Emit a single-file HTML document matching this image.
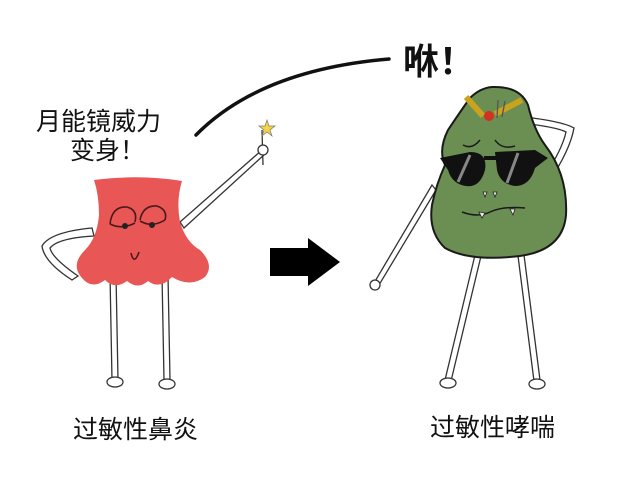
<!DOCTYPE html>
<html><head><meta charset="utf-8"><style>
html,body{margin:0;padding:0;background:#fff;}
svg{display:block}
text{font-family:"Liberation Sans","Noto Sans CJK SC",sans-serif;fill:#111}
</style></head><body>
<svg width="640" height="490" viewBox="0 0 640 490" xmlns="http://www.w3.org/2000/svg">
<rect width="640" height="490" fill="#fff"/>
<text x="36" y="130" font-size="25">月能镜威力</text>
<text x="70" y="159" font-size="25">变身！</text>
<text x="403" y="74" font-size="36" font-weight="bold">咻！</text>
<text x="73" y="438" font-size="25">过敏性鼻炎</text>
<text x="430" y="436" font-size="25">过敏性哮喘</text>
<path d="M196 135 Q260 70 389 59" stroke="#111" stroke-width="3.5" fill="none" stroke-linecap="round"/>
<polygon points="270,248 308,248 308,238 340,262 308,286 308,276 270,276" fill="#000"/>

<g stroke="#333" stroke-width="1.3" fill="#fff">
  <path d="M110 275 L112 380 L118 380 L116 275Z"/>
  <path d="M162 275 L164 380 L170 380 L168 275Z"/>
  <ellipse cx="115" cy="382" rx="8" ry="5"/>
  <ellipse cx="167" cy="384" rx="8" ry="5"/>
  <path d="M180 222 L262 150 L265 154 L184 228Z"/>
  <line x1="262" y1="130" x2="263" y2="165" stroke="#333"/>
  <circle cx="263" cy="150" r="5"/>
  <path d="M92 228 Q50 232 42 246 Q44 262 72 280 L78 276 Q52 258 50 248 Q58 238 94 236Z"/>
</g>
<polygon points="267,120 269,126 275,126 270,130 272,136 267,132 262,136 264,130 259,126 265,126" fill="#f5d442" stroke="#777" stroke-width="0.7"/>
<path d="M94 180 Q140 174 182 181 Q176 200 180 222 Q186 242 200 250 Q215 265 205 277 Q190 288 172 277 Q160 290 148 281 Q138 290 127 281 Q115 290 105 280 Q92 290 82 278 Q70 265 85 250 Q97 238 99 215 Q99 195 94 180Z" fill="#e85656"/>
<g stroke="#4a1a1a" stroke-width="1.6" fill="none">
  <path d="M110 224 Q112 206 127 207 Q138 210 135 222"/>
  <path d="M140 220 Q143 205 157 206 Q168 210 165 220"/>
  <path d="M110 224 Q122 230 135 223"/>
  <path d="M140 221 Q152 228 165 220"/>
  <path d="M131 253 Q134 266 139 252"/>
</g>
<circle cx="125" cy="226" r="3" fill="#222"/><circle cx="152" cy="225" r="3" fill="#222"/>

<g stroke="#333" stroke-width="1.3" fill="#fff">
  <path d="M475 255 L445 380 L451 381 L481 256Z"/>
  <path d="M518 256 L534 381 L540 380 L524 255Z"/>
  <ellipse cx="448" cy="383" rx="8" ry="5"/>
  <ellipse cx="537" cy="384" rx="8" ry="5"/>
  <path d="M432 185 L374 283 L379 285 L436 190Z"/>
  <circle cx="375" cy="285" r="5"/>
  <path d="M550 180 Q570 150 574 128 Q560 120 505 115 L503 121 Q555 126 566 132 Q562 150 545 175Z"/>
</g>
<path d="M492 87 Q520 86 528 105 Q534 130 545 145 Q568 175 566 215 Q563 250 520 256 Q470 262 445 248 Q428 232 432 205 Q436 185 445 165 Q438 150 448 130 Q460 112 470 98 Q480 88 492 87Z" fill="#6b8f52" stroke="#1a1a1a" stroke-width="2"/>
<path d="M466 97 L483 116" stroke="#c9a220" stroke-width="6"/>
<path d="M495 114 L522 100" stroke="#c9a220" stroke-width="6"/>
<circle cx="489" cy="116" r="5" fill="#d23020"/>
<path d="M497 118 L498 100 M502 117 L505 101" stroke="#555" stroke-width="1.3"/>
<g fill="#111">
  <path d="M440 158 L470 152 Q488 152 485 170 Q480 188 466 186 Q452 184 448 170 Z"/>
  <path d="M495 152 L535 150 L548 158 L535 168 Q530 186 515 186 Q500 184 497 170 Z"/>
  <rect x="484" y="156" width="12" height="4"/>
</g>
<path d="M458 182 L470 155 M507 183 L518 153" stroke="#888" stroke-width="3"/>
<g stroke="#1a1a1a" stroke-width="1.5" fill="none">
  <path d="M463 145 Q472 150 480 140"/><path d="M495 140 Q502 150 515 146"/>
  <path d="M462 212 Q478 218 490 212 Q503 206 525 208"/>
</g>
<path d="M483 192 l2 5 l2 -5z M493 192 l2 5 l2 -5z M479 212 l3 6 l3 -5z M510 209 l3 6 l2 -6z" fill="#eee" stroke="#222" stroke-width="0.8"/>
</svg>
</body></html>
